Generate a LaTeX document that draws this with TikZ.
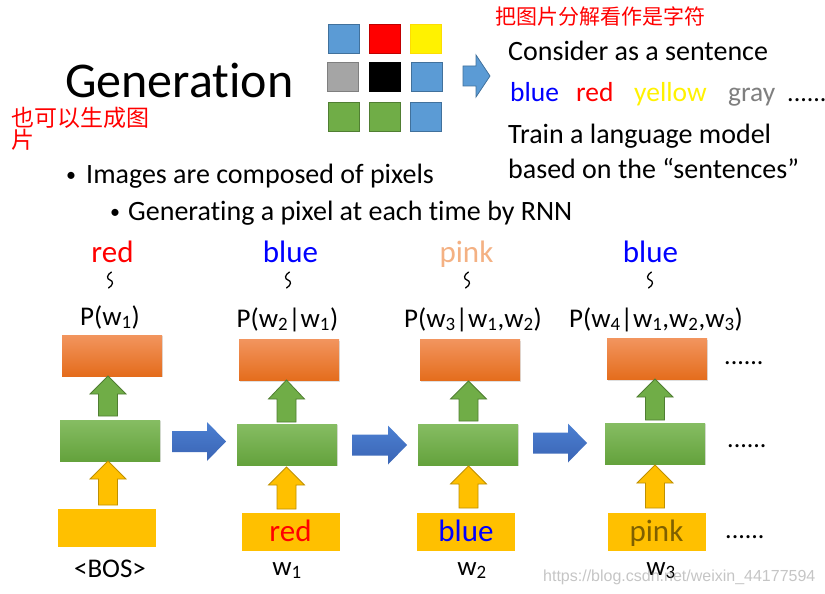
\documentclass[tikz,border=0pt]{standalone}
\usepackage{fontspec}
\setmainfont{Carlito}[Ligatures={NoCommon}]
\newfontfamily\cjk{Noto Sans CJK SC}
\newfontfamily\wmfont{Liberation Sans}
\usetikzlibrary{shadows}
\definecolor{orTop}{HTML}{F2955E}
\definecolor{orBot}{HTML}{E46C1C}
\definecolor{grTop}{HTML}{86BD63}
\definecolor{grBot}{HTML}{64A23C}
\definecolor{yel}{HTML}{FFC000}
\definecolor{yelD}{HTML}{BF9000}
\definecolor{grA}{HTML}{70AD47}
\definecolor{grAD}{HTML}{507E32}
\definecolor{blTop}{HTML}{4C80D2}
\definecolor{blBot}{HTML}{3A64B4}
\definecolor{pxBlue}{HTML}{5B9BD5}
\definecolor{pxBlueD}{HTML}{41719C}
\definecolor{pxGray}{HTML}{A5A5A5}
\definecolor{pxGrayD}{HTML}{7F7F7F}
\definecolor{pxGreen}{HTML}{70AD47}
\definecolor{pxGreenD}{HTML}{507E32}
\definecolor{pinkT}{HTML}{F4B183}
\definecolor{pinkD}{HTML}{7F6000}
\definecolor{grayT}{HTML}{7F7F7F}
\newcommand\blkup[5]{\draw[#5] (#1-9.5,#4) -- (#1-9.5,#3) -- (#1-18,#3) -- (#1,#2) -- (#1+18,#3) -- (#1+9.5,#3) -- (#1+9.5,#4) -- cycle;}
\newcommand\blkright[4]{\draw[#4] (#1,#3-10.5) -- (#2-19,#3-10.5) -- (#2-19,#3-19.5) -- (#2,#3) -- (#2-19,#3+19.5) -- (#2-19,#3+10.5) -- (#1,#3+10.5) -- cycle;}
\newcommand\wavy[1]{\draw[line width=1.3pt,line cap=round] (#1+1.5,272) .. controls (#1-3.5,275) and (#1-3.5,279) .. (#1,280) .. controls (#1+3.5,281) and (#1+3.5,285) .. (#1-1.5,288);}
\begin{document}
\begin{tikzpicture}[x=1pt,y=-1pt,
  txt/.style={inner sep=0pt,anchor=base west},
  ctxt/.style={inner sep=0pt,anchor=base},
  big/.style={font=\fontsize{28}{34}\selectfont},
  bul/.style={inner sep=0pt,anchor=base west,font=\fontsize{20}{24}\selectfont},
  lbl/.style={font=\fontsize{27}{32}\selectfont},
  word/.style={font=\fontsize{31}{36}\selectfont},
  px/.style={rectangle,minimum width=31pt,minimum height=29pt,inner sep=0pt,line width=0.9pt},
  obox/.style={rectangle,minimum width=100pt,minimum height=41pt,inner sep=0pt,top color=orTop,bottom color=orBot,drop shadow={opacity=0.25,shadow xshift=1.2pt,shadow yshift=-1.2pt}},
  gbox/.style={rectangle,minimum width=100pt,minimum height=41pt,inner sep=0pt,top color=grTop,bottom color=grBot,drop shadow={opacity=0.25,shadow xshift=1.2pt,shadow yshift=-1.2pt}},
  ybox/.style={rectangle,minimum width=98pt,minimum height=38pt,inner sep=0pt,fill=yel,text height=22pt,text depth=4pt,font=\fontsize{31}{36}\selectfont},
  garr/.style={fill=grA,draw=grAD,line width=0.8pt},
  yarr/.style={fill=yel,draw=yelD,line width=0.8pt},
  barr/.style={top color=blTop,bottom color=blBot,draw=none},
  dots/.style={inner sep=0pt,anchor=base west,font=\fontsize{26}{30}\selectfont}
]
\useasboundingbox (0,0) rectangle (825,594);
\fill[white] (0,0) rectangle (825,594);

% title
\node[txt,font=\fontsize{50}{58}\selectfont] (title) at (65,98) {Generation};

% pixel grid
\node[px,fill=pxBlue,draw=pxBlueD] (p11) at (343.5,38.5) {};
\node[px,fill=red,draw=red!75!black] (p12) at (384.5,38.5) {};
\node[px,fill=yellow,draw=yellow!80!orange] (p13) at (426,38.5) {};
\node[px,fill=pxGray,draw=pxGrayD] (p21) at (342.5,76.5) {};
\node[px,fill=black,draw=black] (p22) at (384.5,76.5) {};
\node[px,fill=pxBlue,draw=pxBlueD] (p23) at (427,76.5) {};
\node[px,fill=pxGreen,draw=pxGreenD] (p31) at (343.5,116.5) {};
\node[px,fill=pxGreen,draw=pxGreenD] (p32) at (384.5,116.5) {};
\node[px,fill=pxBlue,draw=pxBlueD] (p33) at (426,116.5) {};

% grid arrow
\draw[fill=pxBlue,draw=pxBlueD,line width=0.8pt] (463,66) -- (476,66) -- (476,55) -- (490,76) -- (476,97) -- (476,86) -- (463,86) -- cycle;

% chinese notes
\node[txt,text=red,font=\cjk\fontsize{21}{24}\selectfont] (cn0) at (495,24.5) {把图片分解看作是字符};
\node[txt,text=red,font=\cjk\fontsize{23}{26}\selectfont] (cn1) at (11,126.5) {也可以生成图};
\node[txt,text=red,font=\cjk\fontsize{23}{26}\selectfont] (cn2) at (11,148.5) {片};

% right text
\node[txt,big] (cons) at (508,61) {Consider as a sentence};
\node[txt,font=\fontsize{27.5}{32}\selectfont,text=blue] (sb) at (510,101) {blue};
\node[txt,font=\fontsize{27.5}{32}\selectfont,text=red] (sr) at (576,101) {red};
\node[txt,font=\fontsize{27.5}{32}\selectfont,text=yellow] (sy) at (634,101) {yellow};
\node[txt,font=\fontsize{27.5}{32}\selectfont,text=grayT] (sg) at (728,101) {gray};
\node[dots] (sd) at (787,101) {......};
\node[txt,big] (train) at (508,143) {Train a language model};
\node[txt,big] (based) at (508,178) {based on the “sentences”};

% bullets
\node[bul] (b1) at (66,181) {•};
\node[txt,big] (t1) at (86,183) {Images are composed of pixels};
\node[bul] (b2) at (110,218) {•};
\node[txt,big] (t2) at (128,220) {Generating a pixel at each time by RNN};

% sampled words
\node[ctxt,word,text=red] (s1) at (112.5,262) {red};
\node[ctxt,word,text=blue] (s2) at (290.5,262) {blue};
\node[ctxt,word,text=pinkT] (s3) at (466.5,262) {pink};
\node[ctxt,word,text=blue] (s4) at (650.5,262) {blue};
\wavy{110}
\wavy{288}
\wavy{467}
\wavy{650}

% probabilities
\node[ctxt,lbl] (P1) at (110,325) {P(w\textsubscript{1})};
\node[ctxt,lbl] (P2) at (287.5,327) {P(w\textsubscript{2}|w\textsubscript{1})};
\node[ctxt,lbl] (P3) at (473,327) {P(w\textsubscript{3}|w\textsubscript{1},w\textsubscript{2})};
\node[ctxt,lbl] (P4) at (656,327) {P(w\textsubscript{4}|w\textsubscript{1},w\textsubscript{2},w\textsubscript{3})};

% output boxes
\node[obox] (o1) at (112,355.5) {};
\node[obox] (o2) at (289,360) {};
\node[obox] (o3) at (470,360) {};
\node[obox] (o4) at (657,359) {};

% hidden boxes
\node[gbox] (g1) at (110,440.5) {};
\node[gbox] (g2) at (287,444.5) {};
\node[gbox] (g3) at (468,444.5) {};
\node[gbox] (g4) at (655,443.5) {};

% input boxes
\node[ybox] (y1) at (107,528) {};
\node[ybox,text=red] (y2) at (290.5,532) {red};
\node[ybox,text=blue] (y3) at (466,532) {blue};
\node[ybox,text=pinkD] (y4) at (656.5,532) {pink};

% green arrows
\blkup{108}{376}{394}{416}{garr}
\blkup{286.5}{380}{399}{422}{garr}
\blkup{468.5}{381}{399}{421}{garr}
\blkup{655}{379}{397}{420}{garr}

% yellow arrows
\blkup{108}{461}{479}{505}{yarr}
\blkup{286.5}{467}{485}{509}{yarr}
\blkup{468.5}{466}{484}{508}{yarr}
\blkup{655}{465}{483}{508}{yarr}

% blue arrows
\blkright{172}{226}{441.5}{barr}
\blkright{352}{407}{445}{barr}
\blkright{533}{587}{443}{barr}

% dots
\node[dots] (d1) at (724,364) {......};
\node[dots] (d2) at (727,447) {......};
\node[dots] (d3) at (725,538) {......};

% bottom labels
\node[ctxt,lbl] (l1) at (110,577) {<BOS>};
\node[ctxt,lbl] (l2) at (287,575) {w\textsubscript{1}};
\node[ctxt,lbl] (l3) at (472,575) {w\textsubscript{2}};
\node[ctxt,lbl] (l4) at (661,575) {w\textsubscript{3}};

% watermark
\node[inner sep=0pt,anchor=base west,text=gray,opacity=0.45,font=\wmfont\fontsize{16}{19}\selectfont] (wm) at (543,581) {https://blog.csdn.net/weixin\_44177594};
\end{tikzpicture}
\end{document}
